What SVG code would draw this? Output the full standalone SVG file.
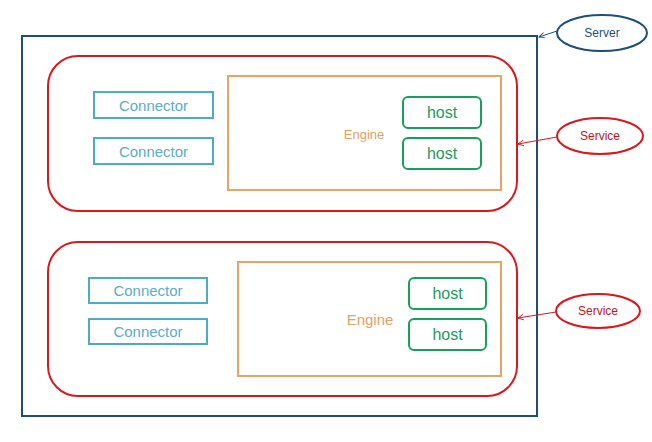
<svg xmlns="http://www.w3.org/2000/svg" width="652" height="442" viewBox="0 0 652 442">
<defs>
<style>
text{font-family:"Liberation Sans","DejaVu Sans",sans-serif;text-anchor:middle;dominant-baseline:central}
.server{fill:none;stroke:#1F4E79;stroke-width:2}
.service{fill:none;stroke:#D9181C;stroke-width:2}
.conn{fill:#fff;stroke:#4BACC6;stroke-width:2}
.conn-t{fill:#5AAEC4;font-size:15px}
.engine{fill:#fff;stroke:#E8A462;stroke-width:2}
.engine-t{fill:#E3A062}
.host{fill:#fff;stroke:#16A05A;stroke-width:2}
.host-t{fill:#1E9A5E;font-size:16px}
.lbl-server{fill:#1F4E79;font-size:12px}
.lbl-service{fill:#C0151A;font-size:12px}
.arr-blue{stroke:#1F4E79;stroke-width:1;fill:none}
.arr-red{stroke:#D9181C;stroke-width:1;fill:none}
</style>
<marker id="ab" viewBox="0 0 10 10" refX="9" refY="5" markerWidth="7" markerHeight="7" orient="auto"><path d="M1,1 L9,5 L1,9" fill="none" stroke="#1F4E79" stroke-width="1.3"/></marker>
<marker id="ar" viewBox="0 0 10 10" refX="9" refY="5" markerWidth="7" markerHeight="7" orient="auto"><path d="M1,1 L9,5 L1,9" fill="none" stroke="#D9181C" stroke-width="1.3"/></marker>
</defs>
<rect width="652" height="442" fill="#fff"/>
<g id="server">
<rect class="server" x="22" y="36" width="515" height="380"/>
</g>
<g id="service1">
<rect class="service" x="48" y="56" width="469" height="155" rx="30"/>
</g>
<g id="connector1a"><rect class="conn" x="94" y="92" width="119" height="26"/><text class="conn-t" x="153.5" y="105">Connector</text></g>
<g id="connector1b"><rect class="conn" x="94" y="138" width="119" height="26"/><text class="conn-t" x="153.5" y="151">Connector</text></g>
<g id="engine1"><rect class="engine" x="228" y="76" width="273" height="114"/><text class="engine-t" x="364" y="134" font-size="13">Engine</text></g>
<g id="host1a"><rect class="host" x="403" y="97" width="78" height="31" rx="5"/><text class="host-t" x="442" y="112.5">host</text></g>
<g id="host1b"><rect class="host" x="403" y="138" width="78" height="31" rx="5"/><text class="host-t" x="442" y="153.5">host</text></g>
<g id="service2">
<rect class="service" x="48" y="242" width="469" height="154" rx="30"/>
</g>
<g id="connector2a"><rect class="conn" x="89" y="278" width="118" height="25"/><text class="conn-t" x="148" y="290.5">Connector</text></g>
<g id="connector2b"><rect class="conn" x="89" y="319" width="118" height="25"/><text class="conn-t" x="148" y="331.5">Connector</text></g>
<g id="engine2"><rect class="engine" x="238" y="262" width="263" height="114"/><text class="engine-t" x="370" y="319" font-size="15">Engine</text></g>
<g id="host2a"><rect class="host" x="409" y="278" width="77" height="31" rx="5"/><text class="host-t" x="447.5" y="293.5">host</text></g>
<g id="host2b"><rect class="host" x="409" y="319" width="77" height="31" rx="5"/><text class="host-t" x="447.5" y="334.5">host</text></g>
<g id="server-label"><ellipse class="server" cx="602" cy="33" rx="45" ry="18"/><text class="lbl-server" x="602" y="33">Server</text></g>
<g id="service-label1"><ellipse class="service" cx="600" cy="136" rx="43" ry="18"/><text class="lbl-service" x="600" y="136">Service</text></g>
<g id="service-label2"><ellipse class="service" cx="598" cy="311" rx="42" ry="17"/><text class="lbl-service" x="598" y="311">Service</text></g>
<g id="connectors">
<line class="arr-blue" x1="557" y1="31" x2="539" y2="37" marker-end="url(#ab)"/>
<line class="arr-red" x1="557" y1="137" x2="518" y2="144" marker-end="url(#ar)"/>
<line class="arr-red" x1="556" y1="312" x2="518" y2="318" marker-end="url(#ar)"/>
</g>
</svg>
